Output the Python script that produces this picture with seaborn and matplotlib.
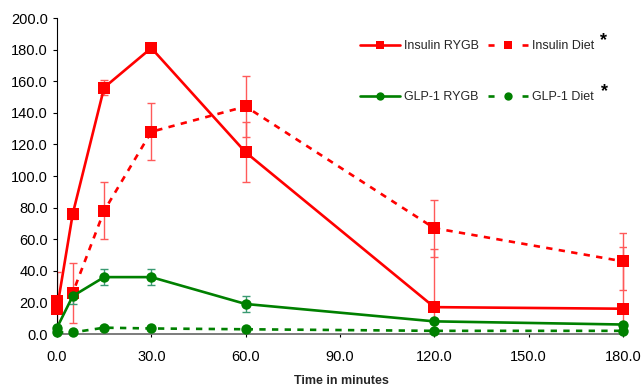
import matplotlib
matplotlib.use("Agg")
import matplotlib.pyplot as plt
import seaborn as sns
import pandas as pd
from matplotlib.lines import Line2D

sns.set_theme(style="white")
plt.rcParams['font.family'] = ['Liberation Sans', 'DejaVu Sans']

time = [0, 5, 15, 30, 60, 120, 180]
insulin_rygb = [16, 76, 156, 181, 115, 17, 16]
insulin_rygb_err = [3, 3, 5, 1, 19, 37, 39]
insulin_diet = [21, 26, 78, 128, 144, 67, 46]
insulin_diet_err = [18, 19, 18, 18, 19, 18, 18]
glp1_rygb = [4, 24, 36, 36, 19, 8, 6]
glp1_rygb_err = [2, 5, 5, 5, 5, 1, 1]
glp1_diet = [1, 1, 4, 3.5, 3, 2, 2]
glp1_diet_err = [1, 1, 1, 1, 1, 1, 1]

xticks = [0, 30, 60, 90, 120, 150, 180]
yticks = [0, 20, 40, 60, 80, 100, 120, 140, 160, 180, 200]

RED = '#ff0000'
GREEN = '#008000'
LW = 1.9
DASH = (0, (2.4, 2.4))

fig = plt.figure(figsize=(6.41, 3.89), dpi=100)
ax = fig.add_axes([57/641, 1-334/389, (626-57)/641, (334-18)/389])

series = [
    ("Insulin RYGB", insulin_rygb, insulin_rygb_err, RED, '#ff5a5a', 's', '-', 8),
    ("Insulin Diet", insulin_diet, insulin_diet_err, RED, '#ff5a5a', 's', DASH, 8),
    ("GLP-1 RYGB", glp1_rygb, glp1_rygb_err, GREEN, '#3a9a72', 'o', '-', 7.5),
    ("GLP-1 Diet", glp1_diet, glp1_diet_err, GREEN, '#3a9a72', 'o', DASH, 7.5),
]

for name, vals, errs, col, ecol, mk, ls, ms in series:
    ax.errorbar(time, vals, yerr=errs, fmt='none', ecolor=ecol, elinewidth=1.0,
                capsize=3, capthick=1.0, zorder=2)
    df = pd.DataFrame({"time": time, "value": vals})
    sns.lineplot(data=df, x="time", y="value", ax=ax, color=col, linewidth=LW,
                 linestyle=ls, marker=mk, markersize=ms, markeredgewidth=0,
                 zorder=3, legend=False, clip_on=False)

ax.set_xlim(0, 181)
ax.set_ylim(0, 200)
ax.set_xticks(xticks)
ax.set_xticklabels([f"{v:.1f}" for v in xticks])
ax.set_yticks(yticks)
ax.set_yticklabels([f"{v:.1f}" for v in yticks])
ax.tick_params(axis='y', labelsize=10.5, colors='black', length=3, width=0.8,
               direction='out', left=True, pad=3.5)
ax.tick_params(axis='x', labelsize=10.5, colors='black', length=2.5, width=0.8,
               direction='out', bottom=True, pad=9)
ax.spines['top'].set_visible(False)
ax.spines['right'].set_visible(False)
ax.spines['left'].set_color('black')
ax.spines['left'].set_linewidth(0.8)
ax.spines['bottom'].set_color('#666666')
ax.spines['bottom'].set_linewidth(1.2)
ax.set_xlabel("Time in minutes", fontsize=9, fontweight='bold', labelpad=8)
ax.set_ylabel("")

LEG_DASH = (0, (2.3, 10.6))
handles = [
    Line2D([], [], color=RED, lw=LW, marker='s', ms=6, mew=0),
    Line2D([], [], color=GREEN, lw=LW, marker='o', ms=6, mew=0),
    (Line2D([], [], color=RED, lw=LW, ls=LEG_DASH),
     Line2D([], [], color=RED, lw=0, marker='s', ms=6, mew=0)),
    (Line2D([], [], color=GREEN, lw=LW, ls=LEG_DASH),
     Line2D([], [], color=GREEN, lw=0, marker='o', ms=6, mew=0)),
]
labels = ["Insulin RYGB", "GLP-1 RYGB", "Insulin Diet", "GLP-1 Diet"]
leg = fig.legend(handles, labels, ncol=2, loc='upper left',
                 bbox_to_anchor=(350/641, 1-30/389), frameon=False, fontsize=9,
                 handlelength=3.2, handletextpad=0.3, columnspacing=0.75,
                 labelspacing=3.15, borderpad=0.3)
fig.text(600/641, 1-45/389, "*", fontsize=13, fontweight='bold', color='black')
fig.text(601/641, 1-96/389, "*", fontsize=13, fontweight='bold', color='black')

fig.savefig("out.png", dpi=100)
